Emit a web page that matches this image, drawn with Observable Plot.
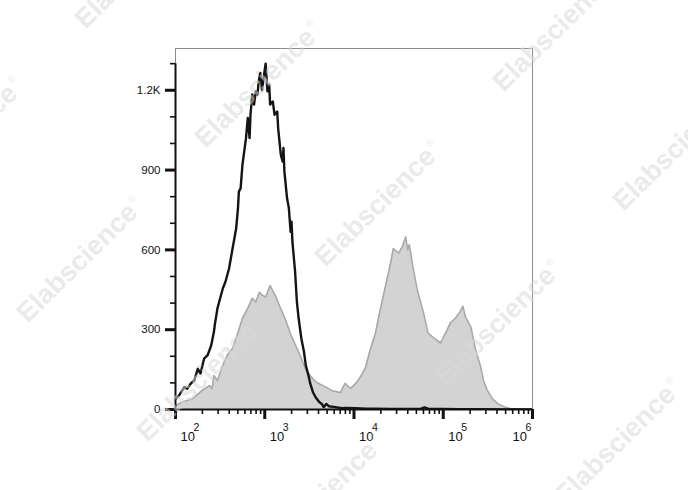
<!DOCTYPE html>
<html><head><meta charset="utf-8">
<script src="https://cdn.jsdelivr.net/npm/d3@7"></script>
<script src="https://cdn.jsdelivr.net/npm/@observablehq/plot@0.6"></script>
<style>
html,body{margin:0;padding:0;background:#fff;}
#wrap{position:relative;width:688px;height:490px;overflow:hidden;background:#fff;}
#wrap svg{position:absolute;left:0;top:0;}
</style></head><body><div id="wrap"></div>
<script>
// log10 fluorescence intensity and event counts (control: black line)
const blackLog = [2.00,2.04,2.10,2.13,2.17,2.21,2.25,2.28,2.32,2.36,2.40,2.43,2.44,2.47,2.49,2.53,2.56,2.60,2.64,2.68,2.70,2.71,2.73,2.75,2.77,2.79,2.81,2.83,2.84,2.86,2.88,2.90,2.92,2.93,2.94,2.95,2.97,2.99,3.01,3.03,3.05,3.06,3.09,3.11,3.14,3.15,3.18,3.20,3.21,3.22,3.25,3.27,3.29,3.30,3.31,3.34,3.36,3.38,3.41,3.44,3.46,3.49,3.51,3.54,3.57,3.61,3.64,3.66,3.69,3.72,3.79,3.87,3.90,4.02,4.13,4.24,4.41,4.58,4.75,4.79,4.83,4.97,5.19,5.42,5.64,6.00];
const blackCount = [40,53,84,78,97,109,153,135,191,204,241,291,317,380,405,455,480,530,606,681,757,819,832,920,970,1020,1096,1020,1108,1184,1146,1196,1184,1228,1247,1265,1200,1253,1300,1196,1221,1146,1158,1108,1120,1058,958,932,983,895,794,757,668,706,631,518,405,342,267,216,166,128,97,65,46,28,21,9,21,12,9,5,6,5,3,3,2,2,3,8,3,2,1,1,0,0];
// stained sample: gray filled histogram
const grayLog = [2.00,2.08,2.19,2.30,2.38,2.41,2.43,2.47,2.53,2.58,2.64,2.69,2.75,2.81,2.86,2.90,2.94,2.97,3.01,3.06,3.12,3.18,3.23,3.29,3.34,3.40,3.46,3.51,3.57,3.62,3.68,3.76,3.85,3.90,3.96,4.02,4.07,4.13,4.18,4.24,4.30,4.35,4.41,4.44,4.50,4.54,4.58,4.60,4.62,4.66,4.71,4.78,4.83,4.91,4.97,5.03,5.08,5.14,5.19,5.22,5.25,5.31,5.36,5.42,5.45,5.49,5.55,5.61,5.70,5.75,5.87,6.00];
const grayCount = [15,28,40,72,90,78,128,109,166,204,230,279,343,381,418,404,441,430,423,466,427,378,340,283,245,200,150,127,105,95,85,70,64,98,79,98,121,158,223,287,385,460,551,605,588,611,649,600,619,536,448,362,287,265,250,290,325,345,368,388,347,310,228,160,110,75,41,22,8,4,1,0];

const yMajorTicks = [0, 300, 600, 900, 1200];
const yTickLabels = ["0", "300", "600", "900", "1.2K"];
const yMinorTicks = [100, 200, 400, 500, 700, 800, 1000, 1100, 1300];
const xDecades = [2, 3, 4, 5, 6];
const xMinorMultipliers = [2, 3, 4, 5, 6, 7, 8, 9];
const yMax = 1357;
const watermarkText = "Elabscience";

const black = blackLog.map((e, i) => ({x: Math.pow(10, e), y: blackCount[i]}));
const gray = grayLog.map((e, i) => ({x: Math.pow(10, e), y: grayCount[i]}));
const xMajor = xDecades.map(k => Math.pow(10, k));
const xMinor = xDecades.slice(0, -1).flatMap(k => xMinorMultipliers.map(m => m * Math.pow(10, k)));
const xMax = xMajor[xMajor.length - 1];
const xInner = xMajor.slice(0, -1);

const font = "'Liberation Sans', Arial, Helvetica, sans-serif";
const ink = "#111";

const chart = Plot.plot({
  width: 688, height: 490,
  marginLeft: 175, marginRight: 156, marginTop: 48, marginBottom: 81,
  style: {fontFamily: font, background: "transparent", color: ink, overflow: "visible"},
  x: {type: "log", domain: [xMajor[0], xMax], axis: null},
  y: {domain: [0, yMax], axis: null},
  marks: [
    Plot.frame({stroke: "#8c8c8c", strokeWidth: 1}),
    Plot.areaY(gray, {x: "x", y: "y", fill: "#d3d3d3", clip: true}),
    Plot.lineY(gray, {x: "x", y: "y", stroke: "#a9a9a9", strokeWidth: 1.6, clip: true}),
    Plot.lineY(black, {x: "x", y: "y", stroke: "#141414", strokeWidth: 2.4, clip: true}),
    Plot.ruleX([xMajor[0]], {y1: 0, y2: d3.max(yMinorTicks), stroke: ink, strokeWidth: 2}),
    Plot.ruleY([0], {stroke: ink, strokeWidth: 2}),
    Plot.axisY({ticks: yMinorTicks, tickSize: 5, tickFormat: () => "", strokeWidth: 1.6, label: null}),
    Plot.axisY({ticks: yMajorTicks, tickSize: 10, strokeWidth: 3, tickPadding: 5, fontSize: 11.5,
      tickFormat: d => yTickLabels[yMajorTicks.indexOf(d)], label: null}),
    Plot.axisX({ticks: xMinor, tickSize: 5, tickFormat: () => "", strokeWidth: 1.6, label: null}),
    Plot.axisX({ticks: xMajor, tickSize: 10, tickFormat: () => "", strokeWidth: 3, label: null}),
    Plot.text(xInner, {x: d => d, text: () => "10", frameAnchor: "bottom", dy: 31, lineAnchor: "bottom",
      textAnchor: "start", dx: 5, fontSize: 13, fill: ink}),
    Plot.text(xInner, {x: d => d, text: d => String(Math.round(Math.log10(d))), frameAnchor: "bottom", dy: 21,
      lineAnchor: "bottom", textAnchor: "start", dx: 18, fontSize: 10.5, fill: ink}),
    Plot.text([xMax], {x: d => d, text: () => "10", frameAnchor: "bottom", dy: 31, lineAnchor: "bottom",
      textAnchor: "start", dx: -20, fontSize: 13, fill: ink}),
    Plot.text([xMax], {x: d => d, text: d => String(Math.round(Math.log10(d))), frameAnchor: "bottom", dy: 21,
      lineAnchor: "bottom", textAnchor: "start", dx: -7, fontSize: 10.5, fill: ink})
  ]
});
document.getElementById("wrap").appendChild(chart);

// faint diagonal watermark overlay
const ns = "http://www.w3.org/2000/svg";
const wm = document.createElementNS(ns, "svg");
wm.setAttribute("width", 688); wm.setAttribute("height", 490);
wm.style.pointerEvents = "none";
const origin = [258, 84], stepA = [120, 119], stepB = [298, -56];
for (let i = -1; i <= 3; i++) {
  for (let j = -1; j <= 1; j++) {
    const cx = origin[0] + i * stepA[0] + j * stepB[0];
    const cy = origin[1] + i * stepA[1] + j * stepB[1];
    const t = document.createElementNS(ns, "text");
    t.setAttribute("transform", `translate(${cx},${cy}) rotate(-44.5)`);
    t.setAttribute("text-anchor", "middle");
    t.setAttribute("dy", "0.35em");
    t.setAttribute("font-family", font);
    t.setAttribute("font-weight", "bold");
    t.setAttribute("font-size", 27);
    t.setAttribute("fill", "#d9d9d9");
    t.setAttribute("fill-opacity", 0.55);
    t.textContent = watermarkText;
    const r = document.createElementNS(ns, "tspan");
    r.setAttribute("font-size", 10);
    r.setAttribute("font-weight", "normal");
    r.setAttribute("dy", "-1.3em");
    r.setAttribute("dx", "2");
    r.textContent = "®";
    t.appendChild(r);
    wm.appendChild(t);
  }
}
document.getElementById("wrap").appendChild(wm);
</script>
</body></html>
